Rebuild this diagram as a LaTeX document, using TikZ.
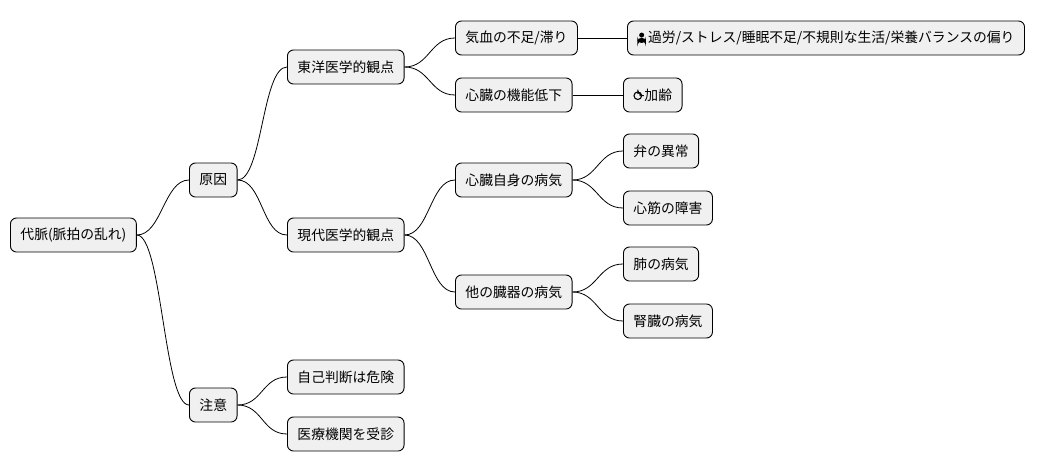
\documentclass[tikz,border=0pt]{standalone}
\usepackage{fontspec}
\setmainfont{Noto Sans CJK JP}
\newcommand{\personicon}{\tikz[baseline=0pt,x=1pt,y=1pt]{\fill (0,7.5) circle (2.5);\fill (-4.2,0) rectangle (4.2,2.2);\fill (0,2.2) ellipse (4.2 and 2.4);}\,}
\newcommand{\clockicon}{\tikz[baseline=0pt,x=1pt,y=1pt]{\draw[line width=1.1pt] (0,4.5) circle (3.8);\draw[line width=0.9pt,line cap=round] (0,6.6) -- (0,4.5) -- (1.9,4.5);}\,}
\begin{document}
\begin{tikzpicture}[x=1pt,y=-1pt]
        \tikzstyle{topic}=[draw,line width=0.9pt,rounded corners=6pt,fill=black!6,minimum height=34pt,inner xsep=10pt,anchor=west,font=\fontsize{13.8}{15}\selectfont]
        \tikzstyle{branch}=[line width=0.8pt]
        \useasboundingbox (0,0) rectangle (1038,471);

        \node[topic] (root) at (10,235) {代脈(脈拍の乱れ)};
        \node[topic] (cause) at (189,180) {原因};
        \node[topic] (care) at (189,405) {注意};
        \node[topic] (east) at (287,67) {東洋医学的観点};
        \node[topic] (modern) at (287,235) {現代医学的観点};
        \node[topic] (kiketsu) at (455,38) {気血の不足/滞り};
        \node[topic] (heartfn) at (455,95) {心臓の機能低下};
        \node[topic] (life) at (627,38) {\personicon 過労/ストレス/睡眠不足/不規則な生活/栄養バランスの偏り};
        \node[topic] (age) at (623,95) {\clockicon 加齢};
        \node[topic] (heart) at (455,180) {心臓自身の病気};
        \node[topic] (organ) at (455,292) {他の臓器の病気};
        \node[topic] (valve) at (623,151) {弁の異常};
        \node[topic] (muscle) at (623,208) {心筋の障害};
        \node[topic] (lung) at (623,264) {肺の病気};
        \node[topic] (kidney) at (623,321) {腎臓の病気};
        \node[topic] (self) at (287,377) {自己判断は危険};
        \node[topic] (visit) at (287,434) {医療機関を受診};

        \foreach \a/\b in {root/cause,root/care,cause/east,cause/modern,east/kiketsu,east/heartfn,
                modern/heart,modern/organ,heart/valve,heart/muscle,organ/lung,organ/kidney,care/self,care/visit}
            \draw[branch] (\a.east) .. controls +(25,0) and +(-25,0) .. (\b.west);
        \draw[branch] (kiketsu) -- (life);
        \draw[branch] (heartfn) -- (age);

    \end{tikzpicture}
\end{document}
